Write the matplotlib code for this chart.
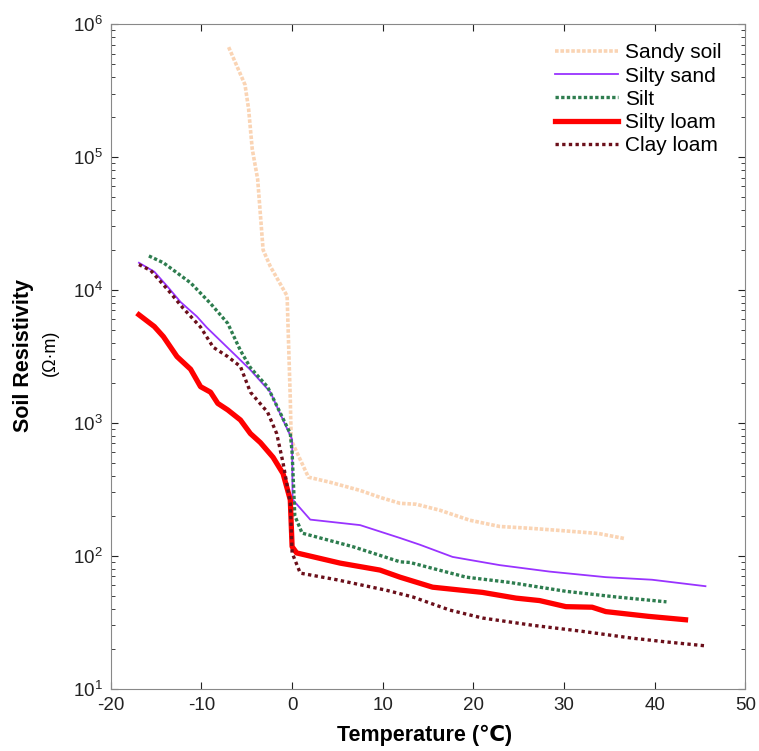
import numpy as np
import matplotlib
matplotlib.use('Agg')
import matplotlib.pyplot as plt
from matplotlib.ticker import LogLocator, NullFormatter

plt.rcParams['font.family'] = ['Liberation Sans', 'DejaVu Sans']
plt.rcParams['axes.unicode_minus'] = False

# Sandy soil
t_sandy = [-7.0, -5.2, -4.8, -4.4, -3.8, -3.2, -2.4, -0.55, -0.2, -0.1, 1.8, 4.2, 7.5, 9.7,
	11.9, 13.7, 16.3, 19.6, 22.9, 26.2, 29.5, 33.8, 36.6]
r_sandy = [6.7e5, 3.5e5, 2.3e5, 1.15e5, 6.8e4, 2.0e4, 1.5e4, 9000, 1500, 740, 390, 357, 310, 275,
	248, 244, 220, 185, 166, 161, 155, 147, 135]

# Silty sand
t_ssand = [-16.9, -15.2, -13.7, -12.3, -10.5, -9.4, -6.1, -4.6, -2.4, -1.0, 0.0, 0.05, 2.0, 7.5,
	11.9, 14.1, 17.7, 19.6, 22.9, 28.4, 34.6, 39.7, 45.6]
r_ssand = [1.6e4, 1.37e4, 1.05e4, 8100, 6300, 5200, 3150, 2500, 1700, 1050, 750, 265, 187, 170,
	136, 121, 98, 93, 85, 76, 69, 66, 59]

# Silt
t_silt = [-15.8, -14.2, -11.2, -9.0, -7.1, -5.7, -4.6, -2.7, -0.2, 0.0, 0.3, 1.1, 6.7,
	11.9, 13.0, 19.2, 24.0, 30.2, 35.7, 41.3]
r_silt = [1.8e4, 1.6e4, 1.13e4, 7900, 5600, 3500, 2600, 1860, 830, 600, 200, 148, 117,
	90, 89, 69, 63, 54, 49, 45]

# Silty loam
t_sloam = [-16.9, -15.2, -14.2, -12.7, -11.2, -10.1, -9.0, -8.2, -7.1, -5.7, -4.6, -3.5, -2.1,
	-1.0, -0.2, 0.0, 0.5, 5.3, 9.7, 11.9, 15.5, 21.0, 24.7, 27.3, 30.2, 33.1, 34.6, 39.3, 43.4]
r_sloam = [6500, 5300, 4450, 3150, 2530, 1870, 1700, 1400, 1250, 1050, 830, 710, 550,
	415, 263, 117, 105, 88, 78, 69, 58, 53, 48, 46, 41.4, 41, 38, 35, 33]

# Clay loam
t_cloam = [-16.9, -15.6, -13.7, -12.0, -10.1, -8.7, -7.1, -5.7, -4.6, -2.7, -1.7, -1.0, -0.2,
	0.0, 0.9, 4.9, 10.4, 13.3, 17.4, 21.0, 26.5, 32.0, 37.5, 41.2, 45.6]
r_cloam = [1.55e4, 1.4e4, 1.0e4, 7250, 5250, 3700, 3150, 2650, 1700, 1200, 830, 500, 250,
	105, 74, 66, 55, 49, 39, 34, 30, 27, 24, 22.5, 21]

x_ticks = [-20, -10, 0, 10, 20, 30, 40, 50]


fig = plt.figure(figsize=(7.59, 7.51), dpi=100)
ax = fig.add_axes([0.146, 0.083, 0.836, 0.885])

ax.plot(t_sandy, r_sandy, color='#fad4b4', lw=2.6, ls=(0, (1, 0.5)), label='Sandy soil')
ax.plot(t_ssand, r_ssand, color='#9933ff', lw=1.3, label='Silty sand')
ax.plot(t_silt, r_silt, color='#2e7d4f', lw=2.4, ls=(0, (1, 0.7)), label='Silt')
ax.plot(t_sloam, r_sloam, color='#ff0000', lw=3.8, label='Silty loam')
ax.plot(t_cloam, r_cloam, color='#6b0f1a', lw=2.4, ls=(0, (1, 1)), label='Clay loam')

ax.set_yscale('log')
ax.set_xlim(-20, 50)
ax.set_ylim(10, 1e6)
ax.set_xticks(x_ticks)
ax.yaxis.set_major_locator(LogLocator(base=10, numticks=10))
ax.yaxis.set_minor_locator(LogLocator(base=10, subs=np.arange(2, 10), numticks=20))
ax.yaxis.set_minor_formatter(NullFormatter())
ax.tick_params(which='both', direction='in', top=True, right=True, labelsize=13.5, colors='#222222', pad=6)
ax.tick_params(which='major', length=5)
ax.tick_params(which='minor', length=3)
for s in ax.spines.values():
	s.set_color('#888888')

leg = ax.legend(loc='upper right', bbox_to_anchor=(0.992, 0.999), frameon=False, fontsize=15,
	handlelength=3.0, handletextpad=0.35, labelspacing=0.2)

fig.text(0.56, 0.021, 'Temperature (\u2103)', ha='center', va='center', fontsize=15.5, fontweight='bold')
fig.text(0.031, 0.527, 'Soil Resistivity', rotation=90, ha='center', va='center', fontsize=15.5, fontweight='bold')
fig.text(0.067, 0.530, '(\u03a9\u00b7m)', rotation=90, ha='center', va='center', fontsize=13)

fig.savefig('out.png', dpi=100)
